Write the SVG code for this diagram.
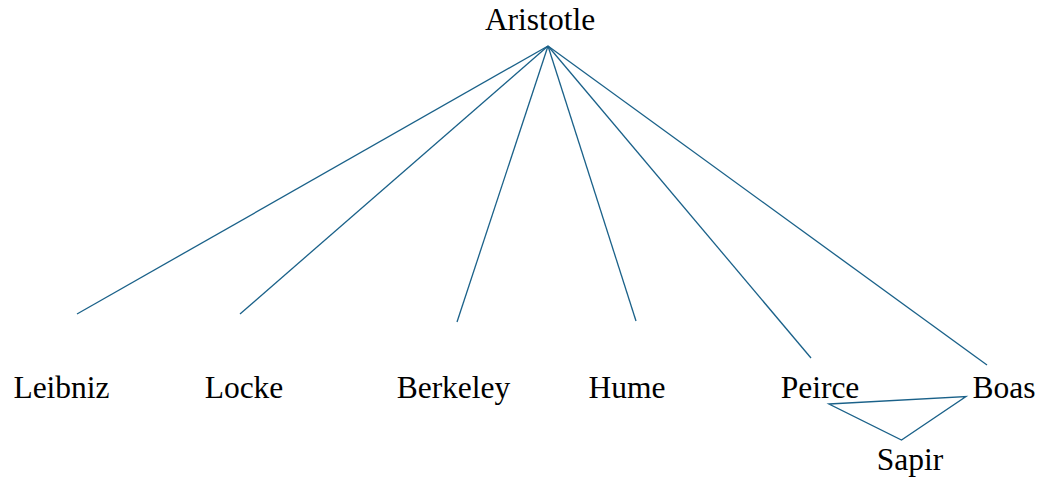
<svg xmlns="http://www.w3.org/2000/svg" width="1042" height="484" viewBox="0 0 1042 484">
  <style>
    .label { font-family: "Liberation Serif", "Times New Roman", serif; font-size: 31.5px; fill: #000; text-anchor: middle; }
    .edge { stroke: #1a6189; stroke-width: 1.3; fill: none; }
  </style>
  <rect width="1042" height="484" fill="#fff"/>
  <g id="connectors">
    <line class="edge" x1="548" y1="46" x2="77" y2="314"/>
    <line class="edge" x1="548" y1="46" x2="240" y2="314"/>
    <line class="edge" x1="548" y1="46" x2="457" y2="322"/>
    <line class="edge" x1="548" y1="46" x2="636" y2="321"/>
    <line class="edge" x1="548" y1="46" x2="811" y2="358"/>
    <line class="edge" x1="548" y1="46" x2="987" y2="365"/>
    <path class="edge" d="M829,404 L966,396.5 L901.5,440 Z"/>
  </g>
  <g id="node-aristotle"><text class="label" x="540" y="30">Aristotle</text></g>
  <g id="node-leibniz"><text class="label" x="61.5" y="398">Leibniz</text></g>
  <g id="node-locke"><text class="label" x="244" y="398">Locke</text></g>
  <g id="node-berkeley"><text class="label" x="453.5" y="398">Berkeley</text></g>
  <g id="node-hume"><text class="label" x="627" y="398">Hume</text></g>
  <g id="node-peirce"><text class="label" x="820" y="398">Peirce</text></g>
  <g id="node-boas"><text class="label" x="1004" y="398">Boas</text></g>
  <g id="node-sapir"><text class="label" x="910" y="470">Sapir</text></g>
</svg>
